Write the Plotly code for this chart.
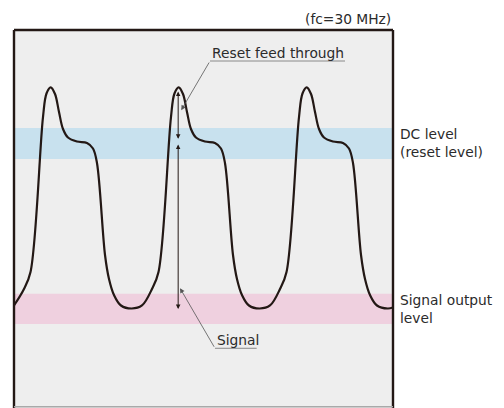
import plotly.graph_objects as go

# CCD output waveform, three pixel periods at fc = 30 MHz (period 33.33 ns)
TIME_NS = [
    0.00, 2.60, 4.30, 7.55, 8.46, 9.56, 10.68, 11.72, 12.76, 14.06,
    16.41, 19.01, 20.57, 21.61, 23.70, 24.74, 26.04, 27.86, 30.65,
    33.33, 35.93, 37.63, 40.88, 41.79, 42.89, 44.01, 45.05, 46.09, 47.39,
    49.74, 52.34, 53.90, 54.94, 57.03, 58.07, 59.37, 61.19, 63.98,
    66.67, 69.27, 70.97, 74.22, 75.13, 76.23, 77.35, 78.39, 79.43, 80.73,
    83.08, 85.68, 87.24, 88.28, 90.37, 91.41, 92.71, 94.53, 97.32, 98.70,
]
OUTPUT_LEVEL = [
    27.12, 31.48, 35.98, 76.98, 83.20, 84.84, 83.07, 78.31, 73.81, 71.56,
    70.50, 70.11, 68.65, 64.81, 40.48, 34.13, 29.89, 27.12, 26.32,
    27.12, 31.48, 35.98, 76.98, 83.20, 84.84, 83.07, 78.31, 73.81, 71.56,
    70.50, 70.11, 68.65, 64.81, 40.48, 34.13, 29.89, 27.12, 26.32,
    27.12, 31.48, 35.98, 76.98, 83.20, 84.84, 83.07, 78.31, 73.81, 71.56,
    70.50, 70.11, 68.65, 64.81, 40.48, 34.13, 29.89, 27.12, 26.32, 26.60,
]

# Level bands [low, high]
DC_LEVEL_BAND = [65.9, 74.1]
SIGNAL_LEVEL_BAND = [22.2, 30.2]

# Measurement arrows on the second period
ARROW_TIME = 42.75
RESET_FT_SPAN = [84.1, 71.2]
SIGNAL_SPAN = [70.1, 26.2]

# Callout leaders: label anchor, end of underline, arrow tip
RESET_CALLOUT = dict(t0=51.04, v0=91.8, t1=86.2, tip_t=43.55, tip_v=78.8)
SIGNAL_CALLOUT = dict(t0=52.34, v0=15.8, t1=63.2, tip_t=43.23, tip_v=31.7)

X_RANGE = [0, 98.7]
Y_RANGE = [0, 100]

INK = "#231815"
TEXT = "#2b2b2b"
LEADER = "#6e6e6e"
FONT = dict(family="DejaVu Sans", size=13.8, color=TEXT)

fig = go.Figure()
fig.add_trace(go.Scatter(
    x=TIME_NS, y=OUTPUT_LEVEL, mode="lines",
    line=dict(color=INK, width=2.2, shape="spline", smoothing=1.0),
    hoverinfo="skip",
))

shapes = [
    dict(type="rect", xref="paper", yref="y", x0=0, x1=1,
         y0=DC_LEVEL_BAND[0], y1=DC_LEVEL_BAND[1],
         fillcolor="#c8e1ee", line=dict(width=0), layer="below"),
    dict(type="rect", xref="paper", yref="y", x0=0, x1=1,
         y0=SIGNAL_LEVEL_BAND[0], y1=SIGNAL_LEVEL_BAND[1],
         fillcolor="#efd0df", line=dict(width=0), layer="below"),
    # frame
    dict(type="line", xref="paper", yref="paper", x0=0, x1=0, y0=0, y1=1,
         line=dict(color=INK, width=2.4)),
    dict(type="line", xref="paper", yref="paper", x0=0, x1=1, y0=1, y1=1,
         line=dict(color=INK, width=2.4)),
    dict(type="line", xref="paper", yref="paper", x0=1, x1=1, y0=0, y1=1,
         line=dict(color=INK, width=2.4)),
    dict(type="line", xref="paper", yref="paper", x0=0, x1=1, y0=0.003, y1=0.003,
         line=dict(color="#a9a9a9", width=1.5)),
]

# callout underlines
for c in (RESET_CALLOUT, SIGNAL_CALLOUT):
    shapes.append(dict(type="line", xref="x", yref="y", x0=c["t0"], x1=c["t1"],
                       y0=c["v0"], y1=c["v0"], line=dict(color=LEADER, width=0.8)))

annotations = [
    # double-headed measurement arrows
    dict(x=ARROW_TIME, y=RESET_FT_SPAN[1], ax=ARROW_TIME, ay=RESET_FT_SPAN[0],
         xref="x", yref="y", axref="x", ayref="y", text="", showarrow=True,
         arrowhead=2, startarrowhead=2, arrowside="end+start",
         arrowsize=0.9, startarrowsize=0.9, arrowwidth=1, arrowcolor=INK),
    dict(x=ARROW_TIME, y=SIGNAL_SPAN[1], ax=ARROW_TIME, ay=SIGNAL_SPAN[0],
         xref="x", yref="y", axref="x", ayref="y", text="", showarrow=True,
         arrowhead=2, startarrowhead=2, arrowside="end+start",
         arrowsize=0.9, startarrowsize=0.9, arrowwidth=1, arrowcolor=INK),
]
# diagonal leaders with small arrowheads
for c in (RESET_CALLOUT, SIGNAL_CALLOUT):
    annotations.append(dict(
        x=c["tip_t"], y=c["tip_v"], ax=c["t0"], ay=c["v0"],
        xref="x", yref="y", axref="x", ayref="y", text="", showarrow=True,
        arrowhead=2, arrowsize=1.2, arrowwidth=0.8, arrowcolor="#555555"))

annotations += [
    dict(x=RESET_CALLOUT["t0"], y=RESET_CALLOUT["v0"], xref="x", yref="y",
         text="Reset feed through", showarrow=False, xanchor="left",
         yanchor="bottom", yshift=-2, font=FONT),
    dict(x=SIGNAL_CALLOUT["t0"], y=SIGNAL_CALLOUT["v0"], xref="x", yref="y",
         text="Signal", showarrow=False, xanchor="left",
         yanchor="bottom", yshift=-2, font=FONT),
    dict(x=1, y=1, xref="paper", yref="paper", text="(fc=30 MHz)",
         showarrow=False, xanchor="right", yanchor="bottom", yshift=1, font=FONT),
    dict(x=1, y=sum(DC_LEVEL_BAND) / 2, xref="paper", yref="y",
         text="DC level<br>(reset level)", showarrow=False, xanchor="left",
         yanchor="middle", align="left", xshift=5, font=FONT),
    dict(x=1, y=sum(SIGNAL_LEVEL_BAND) / 2, xref="paper", yref="y",
         text="Signal output<br>level", showarrow=False, xanchor="left",
         yanchor="middle", align="left", xshift=5, font=FONT),
]

fig.update_layout(
    width=504, height=408,
    margin=dict(l=14, r=111, t=30, b=0),
    paper_bgcolor="white", plot_bgcolor="#eeeeee",
    showlegend=False,
    xaxis=dict(range=X_RANGE, visible=False, fixedrange=True),
    yaxis=dict(range=Y_RANGE, visible=False, fixedrange=True),
    shapes=shapes, annotations=annotations,
)

fig.write_html("out.html")
